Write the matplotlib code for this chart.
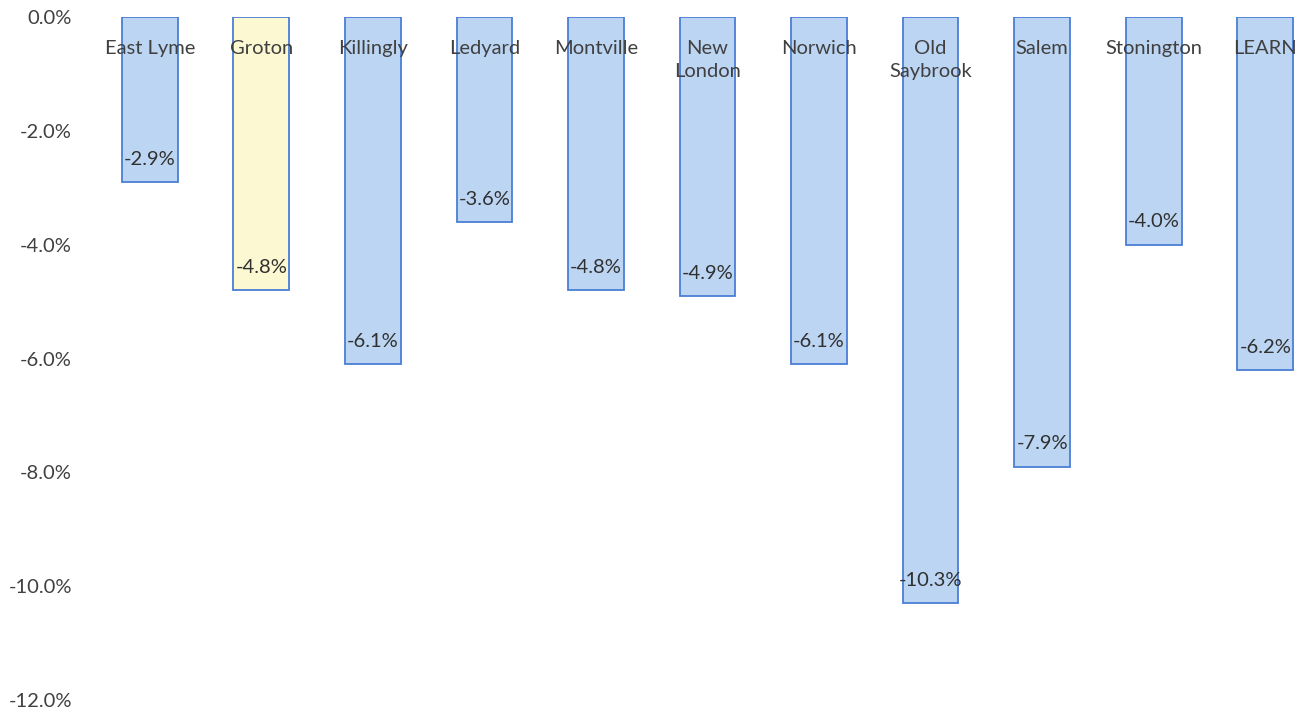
import matplotlib.pyplot as plt
from matplotlib.ticker import FuncFormatter

towns = ['East Lyme', 'Groton', 'Killingly', 'Ledyard', 'Montville', 'New\nLondon',
         'Norwich', 'Old\nSaybrook', 'Salem', 'Stonington', 'LEARN']
change = [-2.9, -4.8, -6.1, -3.6, -4.8, -4.9, -6.1, -10.3, -7.9, -4.0, -6.2]
yticks = [0, -2, -4, -6, -8, -10, -12]

plt.rcParams['font.family'] = ['Lato', 'DejaVu Sans']

fig = plt.figure(figsize=(13.02, 7.13), dpi=100)
ax = fig.add_axes([94/1302, 13/713, 1 - 94/1302, (700 - 17)/713])

x = range(len(towns))
colors = ['#fbf8d2' if t == 'Groton' else '#bcd5f3' for t in towns]
ax.bar(x, change, width=0.5, color=colors, edgecolor='#4a7ed6', linewidth=1.3)

for i, (t, v) in enumerate(zip(towns, change)):
    ax.text(i, -0.41, t, ha='center', va='top', fontsize=14.5, color='#404040', linespacing=1.4)
    ax.text(i, v + 0.4, f'{v:.1f}%', ha='center', va='center', fontsize=14.5, color='#303030')

ax.set_xlim(-0.5, 10.33)
ax.set_ylim(-12, 0)
ax.set_yticks(yticks)
ax.yaxis.set_major_formatter(FuncFormatter(lambda v, p: f'{v:.1f}%'))
ax.tick_params(axis='y', length=0, labelsize=14.5, labelcolor='#404040', pad=16)
ax.set_xticks([])
for s in ax.spines.values():
    s.set_visible(False)

fig.savefig('out.png', dpi=100)
